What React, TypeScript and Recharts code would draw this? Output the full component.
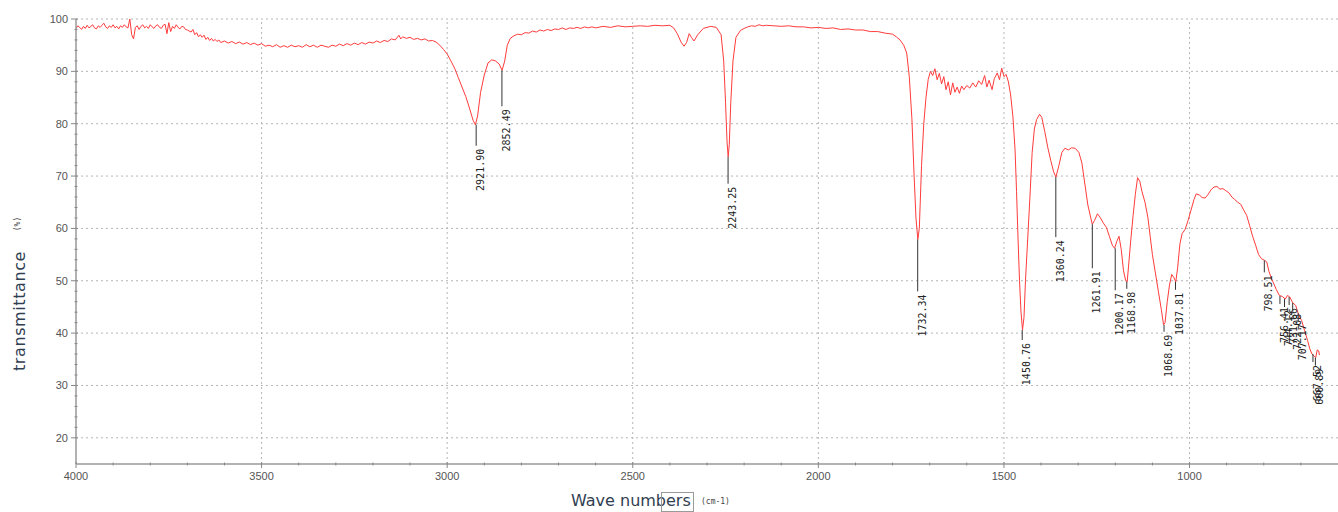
import React from 'react';
import { ComposedChart, Line, Scatter, XAxis, YAxis, ReferenceLine } from 'recharts';

// ---- Spectrum data: [wavenumber (cm-1), transmittance (%)] ----
const regionHighNoise: [number, number][] = [
  [4000, 98.2], [3995, 98.7], [3990, 98.4], [3985, 98.0], [3980, 98.6], [3975, 98.2], [3970, 98.8],
  [3965, 98.3], [3960, 98.6], [3955, 98.9], [3950, 98.3], [3945, 98.1], [3940, 98.7], [3935, 98.4],
  [3930, 98.8], [3925, 99.2], [3920, 98.5], [3915, 98.2], [3910, 98.7], [3905, 98.4], [3900, 98.9],
  [3895, 98.3], [3890, 98.6], [3885, 98.1], [3880, 98.7], [3875, 98.4], [3870, 98.9], [3865, 98.5],
  [3860, 98.3], [3855, 100.0], [3850, 97.0], [3845, 96.2], [3840, 98.4], [3835, 98.7], [3830, 98.0],
  [3825, 98.6], [3820, 98.9], [3815, 98.3], [3810, 98.6], [3805, 98.2], [3800, 98.9], [3795, 98.5],
  [3790, 98.2], [3785, 98.7], [3780, 98.9], [3775, 98.4], [3770, 98.2], [3765, 98.8], [3760, 99.0],
  [3755, 97.2], [3750, 99.3], [3745, 97.6], [3740, 98.6], [3735, 98.2], [3730, 98.9], [3725, 98.4],
  [3720, 98.1], [3715, 98.6], [3710, 98.5], [3705, 98.0],
  [3700, 97.9], [3690, 97.5], [3685, 98.0], [3680, 97.0], [3675, 97.4], [3670, 96.6], [3665, 97.0],
  [3660, 96.5], [3655, 96.9], [3650, 96.1], [3645, 96.5], [3640, 95.9], [3635, 96.3], [3630, 95.8],
  [3625, 96.1], [3620, 95.7], [3615, 96.0], [3610, 95.5], [3600, 95.8], [3590, 95.4], [3580, 95.7],
  [3570, 95.3], [3560, 95.6], [3550, 95.2], [3540, 95.5], [3530, 95.1], [3520, 95.4], [3510, 95.0],
  [3500, 95.3], [3490, 94.8], [3480, 95.0], [3470, 94.7], [3460, 95.1], [3450, 94.6], [3440, 94.9],
  [3430, 94.6], [3420, 95.0], [3410, 94.7], [3400, 94.9], [3390, 94.6], [3380, 95.1], [3370, 94.7],
  [3360, 95.0], [3350, 94.6], [3340, 95.0], [3330, 94.8], [3320, 94.6], [3310, 95.0], [3300, 94.8],
  [3290, 95.2], [3280, 94.9], [3270, 95.3], [3260, 95.0], [3250, 95.4], [3240, 95.1], [3230, 95.5],
  [3220, 95.2], [3210, 95.6], [3200, 95.4], [3190, 95.8], [3180, 95.5], [3170, 95.9], [3160, 95.7],
  [3150, 96.2], [3140, 96.0], [3130, 96.9], [3125, 96.2], [3120, 96.6], [3110, 96.3], [3100, 96.5],
  [3090, 96.1], [3080, 96.3], [3070, 96.0], [3060, 96.2], [3050, 95.8], [3040, 95.9], [3030, 95.6],
];

const regionCH: [number, number][] = [
  [3020, 95.0], [3010, 94.2], [3000, 93.3], [2990, 92.0], [2980, 90.6], [2970, 88.8], [2960, 87.0],
  [2950, 85.2], [2940, 83.0], [2930, 80.6], [2924, 79.8], [2918, 81.5], [2910, 86.0], [2900, 89.3],
  [2890, 91.6], [2880, 92.2], [2870, 92.0], [2860, 91.4], [2852, 90.2], [2845, 92.0], [2838, 95.0],
  [2830, 96.3], [2820, 96.8], [2810, 97.1], [2800, 97.0], [2790, 97.4], [2780, 97.3], [2770, 97.7],
  [2760, 97.5], [2750, 97.9], [2740, 97.7], [2730, 98.0], [2720, 97.8], [2710, 98.1], [2700, 98.0],
  [2690, 98.3], [2680, 98.0], [2670, 98.3], [2660, 98.2], [2650, 98.4], [2640, 98.2], [2630, 98.5],
  [2620, 98.3], [2610, 98.5], [2600, 98.3], [2580, 98.6], [2560, 98.4], [2540, 98.7], [2520, 98.5],
  [2500, 98.6], [2480, 98.7], [2460, 98.6], [2440, 98.8], [2420, 98.7], [2400, 98.8],
];

const regionNitrile: [number, number][] = [
  [2390, 98.3], [2380, 97.2], [2370, 95.6], [2362, 94.8], [2355, 95.5], [2348, 97.2], [2342, 96.5],
  [2335, 95.8], [2325, 97.0], [2310, 98.2], [2290, 98.6], [2275, 98.4], [2262, 97.0], [2255, 92.0],
  [2250, 84.0], [2246, 76.5], [2243, 73.7], [2240, 76.0], [2236, 84.0], [2230, 92.0], [2222, 96.5],
  [2210, 97.8], [2200, 98.2], [2190, 98.5], [2180, 98.7], [2170, 98.6], [2160, 98.9], [2150, 98.7],
  [2140, 98.8], [2120, 98.7], [2100, 98.6], [2080, 98.7], [2060, 98.5], [2040, 98.5], [2020, 98.3],
  [2000, 98.4], [1980, 98.2], [1960, 98.3], [1940, 98.0], [1920, 98.1], [1900, 97.9], [1880, 97.9],
  [1860, 97.6], [1840, 97.6], [1820, 97.3], [1800, 97.1],
];

const regionCarbonyl: [number, number][] = [
  [1790, 96.6], [1780, 96.0], [1770, 95.0], [1762, 93.5], [1755, 89.0], [1748, 81.0], [1742, 70.0],
  [1737, 62.0], [1732, 57.9], [1728, 60.0], [1722, 72.0], [1716, 80.0], [1710, 85.0], [1704, 88.5],
  [1698, 90.0], [1692, 89.2], [1686, 90.5], [1680, 88.4], [1674, 89.6], [1668, 87.6], [1662, 89.0],
  [1656, 86.5], [1650, 88.0], [1644, 85.5], [1638, 87.8], [1632, 86.0], [1626, 87.0], [1620, 85.8],
  [1614, 87.2], [1608, 86.5], [1600, 87.3], [1592, 86.8], [1584, 87.8], [1576, 87.0], [1568, 88.2],
  [1560, 87.5], [1552, 89.2], [1546, 87.0], [1540, 88.3], [1532, 86.5], [1526, 88.6], [1518, 89.7],
  [1512, 88.4], [1506, 90.6], [1500, 89.0], [1494, 89.4], [1488, 88.0],
];

const regionFingerprint: [number, number][] = [
  [1482, 85.5], [1476, 81.5], [1470, 75.0], [1466, 67.0], [1462, 58.0], [1458, 50.0], [1454, 44.0],
  [1450, 40.6], [1446, 43.0], [1442, 50.0], [1436, 58.0], [1430, 66.0], [1424, 74.5], [1418, 79.0],
  [1412, 80.8], [1404, 81.8], [1398, 81.2], [1390, 78.5], [1382, 75.5], [1374, 73.0], [1366, 70.8],
  [1360, 69.8], [1352, 72.0], [1344, 74.5], [1336, 75.3], [1326, 75.0], [1318, 75.4], [1308, 75.3],
  [1298, 74.5], [1290, 72.5], [1282, 68.5], [1274, 64.5], [1266, 62.0], [1262, 60.8], [1256, 61.5],
  [1248, 62.8], [1240, 62.0], [1232, 61.0], [1224, 60.2], [1216, 58.5], [1208, 56.8], [1202, 56.2],
  [1196, 57.5], [1190, 58.5], [1184, 56.0], [1178, 52.0], [1172, 50.0], [1168, 49.8], [1164, 53.0],
  [1158, 58.0], [1152, 62.5], [1146, 66.5], [1140, 69.7], [1134, 69.0], [1128, 67.0], [1120, 65.0],
  [1112, 62.0], [1106, 58.5], [1100, 55.0], [1092, 51.5], [1084, 48.0], [1076, 44.5], [1070, 41.6],
  [1066, 42.0], [1060, 46.0], [1054, 49.2], [1048, 51.2], [1042, 50.6], [1037, 49.8], [1032, 52.5],
  [1026, 57.0], [1020, 59.0], [1012, 59.8], [1004, 61.5], [996, 63.5], [988, 65.5], [982, 66.6],
  [974, 66.4], [966, 65.9], [958, 65.8], [950, 66.5], [942, 67.4], [934, 67.9], [926, 68.0],
  [918, 67.5], [910, 67.6], [902, 67.2], [894, 66.8], [886, 66.0], [878, 65.5], [870, 65.0],
  [862, 64.6], [854, 63.5], [846, 62.5], [838, 60.5], [830, 58.5], [822, 56.8], [814, 55.0],
  [806, 54.2], [798, 53.9], [792, 53.6], [786, 51.8], [780, 50.5], [774, 49.6], [766, 48.3],
  [758, 47.2], [750, 47.0], [742, 46.5], [736, 47.2], [730, 46.9], [722, 45.8], [714, 45.3],
  [706, 43.5], [698, 42.4], [690, 40.5], [682, 38.6], [676, 37.0], [670, 36.0], [664, 35.6],
  [660, 35.3], [656, 36.8], [652, 36.6], [650, 35.8],
];

// ---- Peak annotations ----
const peakWavenumbers = [
  2921.9, 2852.49, 2243.25, 1732.34, 1450.76, 1360.24, 1261.91, 1200.17, 1168.98, 1068.69, 1037.81,
  798.51, 756.41, 744.12, 731.66, 722.08, 707.17, 667.52, 660.89,
];
const peakTransmittance = [
  79.8, 90.2, 73.7, 57.9, 40.6, 69.8, 60.8, 56.2, 49.8, 41.6, 49.8, 53.9, 47.1, 46.5, 46.9, 45.8, 43.8, 36.0, 35.3,
];
const peakLabels = [
  '2921.90', '2852.49', '2243.25', '1732.34', '1450.76', '1360.24', '1261.91', '1200.17', '1168.98',
  '1068.69', '1037.81', '798.51', '756.41', '744.12', '731.66', '722.08', '707.17', '667.52', '660.89',
];

// ---- Axis ticks ----
const xTicks = [4000, 3900, 3800, 3700, 3600, 3500, 3400, 3300, 3200, 3100, 3000, 2900, 2800, 2700, 2600, 2500,
  2400, 2300, 2200, 2100, 2000, 1900, 1800, 1700, 1600, 1500, 1400, 1300, 1200, 1100, 1000, 900, 800, 700];
const yTicks = [20, 22, 24, 26, 28, 30, 32, 34, 36, 38, 40, 42, 44, 46, 48, 50, 52, 54, 56, 58, 60, 62, 64, 66,
  68, 70, 72, 74, 76, 78, 80, 82, 84, 86, 88, 90, 92, 94, 96, 98, 100];
const xGridValues = [3500, 3000, 2500, 2000, 1500, 1000];
const yGridValues = [20, 30, 40, 50, 60, 70, 80, 90, 100];

// ---- Built tables ----
const spectrum = [...regionHighNoise, ...regionCH, ...regionNitrile, ...regionCarbonyl, ...regionFingerprint]
  .map(([wn, t]) => ({ wn, t }));
const peaks = peakWavenumbers.map((wn, i) => ({ wn, t: peakTransmittance[i], label: peakLabels[i] }));

// styling: length of leader line (px) per peak label
const leaderLength: Record<string, number> = {
  '2921.90': 21, '2852.49': 36, '2243.25': 27, '1732.34': 52, '1450.76': 10, '1360.24': 60,
  '1261.91': 44, '1200.17': 42, '1168.98': 7, '1068.69': 7, '1037.81': 8, '798.51': 12,
};

const TICK_FONT = '"Liberation Sans", Arial, sans-serif';

const XTick = (props: any) => {
  const { x, y, payload } = props;
  const v = payload.value as number;
  const major = v % 500 === 0;
  return (
    <g>
      <line x1={x} x2={x} y1={y - (major ? 2 : 1.5)} y2={y + (major ? 4 : 1.5)} stroke="#888" strokeWidth={1} />
      {major && (
        <text x={x} y={y + 16} textAnchor="middle" fontSize={11} fontFamily={TICK_FONT} fill="#555">
          {v}
        </text>
      )}
    </g>
  );
};

const YTick = (props: any) => {
  const { x, y, payload } = props;
  const v = payload.value as number;
  const major = v % 10 === 0;
  return (
    <g>
      <line x1={x - (major ? 5 : 1.5)} x2={x + (major ? 2 : 1.5)} y1={y} y2={y} stroke="#888" strokeWidth={1} />
      {major && (
        <text x={x - 8} y={y + 4} textAnchor="end" fontSize={11} fontFamily={TICK_FONT} fill="#555">
          {v}
        </text>
      )}
    </g>
  );
};

const PeakMark = (props: any) => {
  const { cx, cy, payload } = props;
  if (cx == null || cy == null) return null;
  const len = leaderLength[payload.label] ?? 8;
  const ty = cy + len + 3;
  return (
    <g>
      <line x1={cx} x2={cx} y1={cy} y2={cy + len} stroke="#333" strokeWidth={1} />
      <text
        x={cx + 8}
        y={ty}
        transform={`rotate(-90 ${cx + 8} ${ty})`}
        textAnchor="end"
        fontSize={10}
        fontFamily='"DejaVu Sans Mono", monospace'
        fill="#222"
      >
        {payload.label}
      </text>
    </g>
  );
};

export default function App() {
  return (
    <div style={{ position: 'absolute', left: 0, top: 0, width: 1338, height: 512, background: '#fff' }}>
      <ComposedChart
        width={1338}
        height={512}
        data={spectrum}
        margin={{ top: 19, right: 0, bottom: 0, left: 0 }}
      >
        {yGridValues.map((v) => (
          <ReferenceLine key={'gy' + v} y={v} stroke="#b5b5b5" strokeDasharray="2 3" />
        ))}
        {xGridValues.map((v) => (
          <ReferenceLine key={'gx' + v} x={v} stroke="#b5b5b5" strokeDasharray="2 3" />
        ))}
        <XAxis
          dataKey="wn"
          type="number"
          domain={[600, 4000]}
          reversed
          allowDataOverflow
          ticks={xTicks}
          interval={0}
          tick={<XTick />}
          tickSize={0}
          tickMargin={0}
          tickLine={false}
          axisLine={{ stroke: '#999', strokeWidth: 1.5 }}
          height={48}
        />
        <YAxis
          dataKey="t"
          type="number"
          domain={[15, 100]}
          allowDataOverflow
          ticks={yTicks}
          interval={0}
          tick={<YTick />}
          tickSize={0}
          tickMargin={0}
          tickLine={false}
          axisLine={{ stroke: '#999', strokeWidth: 1.5 }}
          width={76}
        />
        <Line
          dataKey="t"
          type="linear"
          stroke="#ff3b3b"
          strokeWidth={1}
          dot={false}
          isAnimationActive={false}
        />
        <Scatter data={peaks} dataKey="t" shape={<PeakMark />} isAnimationActive={false} />
      </ComposedChart>

      <div
        style={{
          position: 'absolute', left: 571, top: 491, fontFamily: '"DejaVu Sans", sans-serif', fontSize: 16,
          color: '#2f3e50', whiteSpace: 'nowrap', lineHeight: '20px',
        }}
      >
        Wave numbers
      </div>
      <div style={{ position: 'absolute', left: 661, top: 492, width: 31, height: 18, border: '1px solid #9a9a9a' }} />
      <div
        style={{
          position: 'absolute', left: 701, top: 497, fontFamily: '"DejaVu Sans Mono", monospace', fontSize: 8,
          color: '#444', whiteSpace: 'nowrap',
        }}
      >
        (cm-1)
      </div>
      <div
        style={{
          position: 'absolute', left: 19, top: 311, transform: 'translate(-50%, -50%) rotate(-90deg)',
          fontFamily: '"DejaVu Sans", sans-serif', fontSize: 16, letterSpacing: 0.6, color: '#2f3e50',
          whiteSpace: 'nowrap',
        }}
      >
        transmittance
      </div>
      <div
        style={{
          position: 'absolute', left: 17, top: 224, transform: 'translate(-50%, -50%) rotate(-90deg)',
          fontFamily: '"DejaVu Sans Mono", monospace', fontSize: 8, color: '#444', whiteSpace: 'nowrap',
        }}
      >
        (%)
      </div>
    </div>
  );
}
